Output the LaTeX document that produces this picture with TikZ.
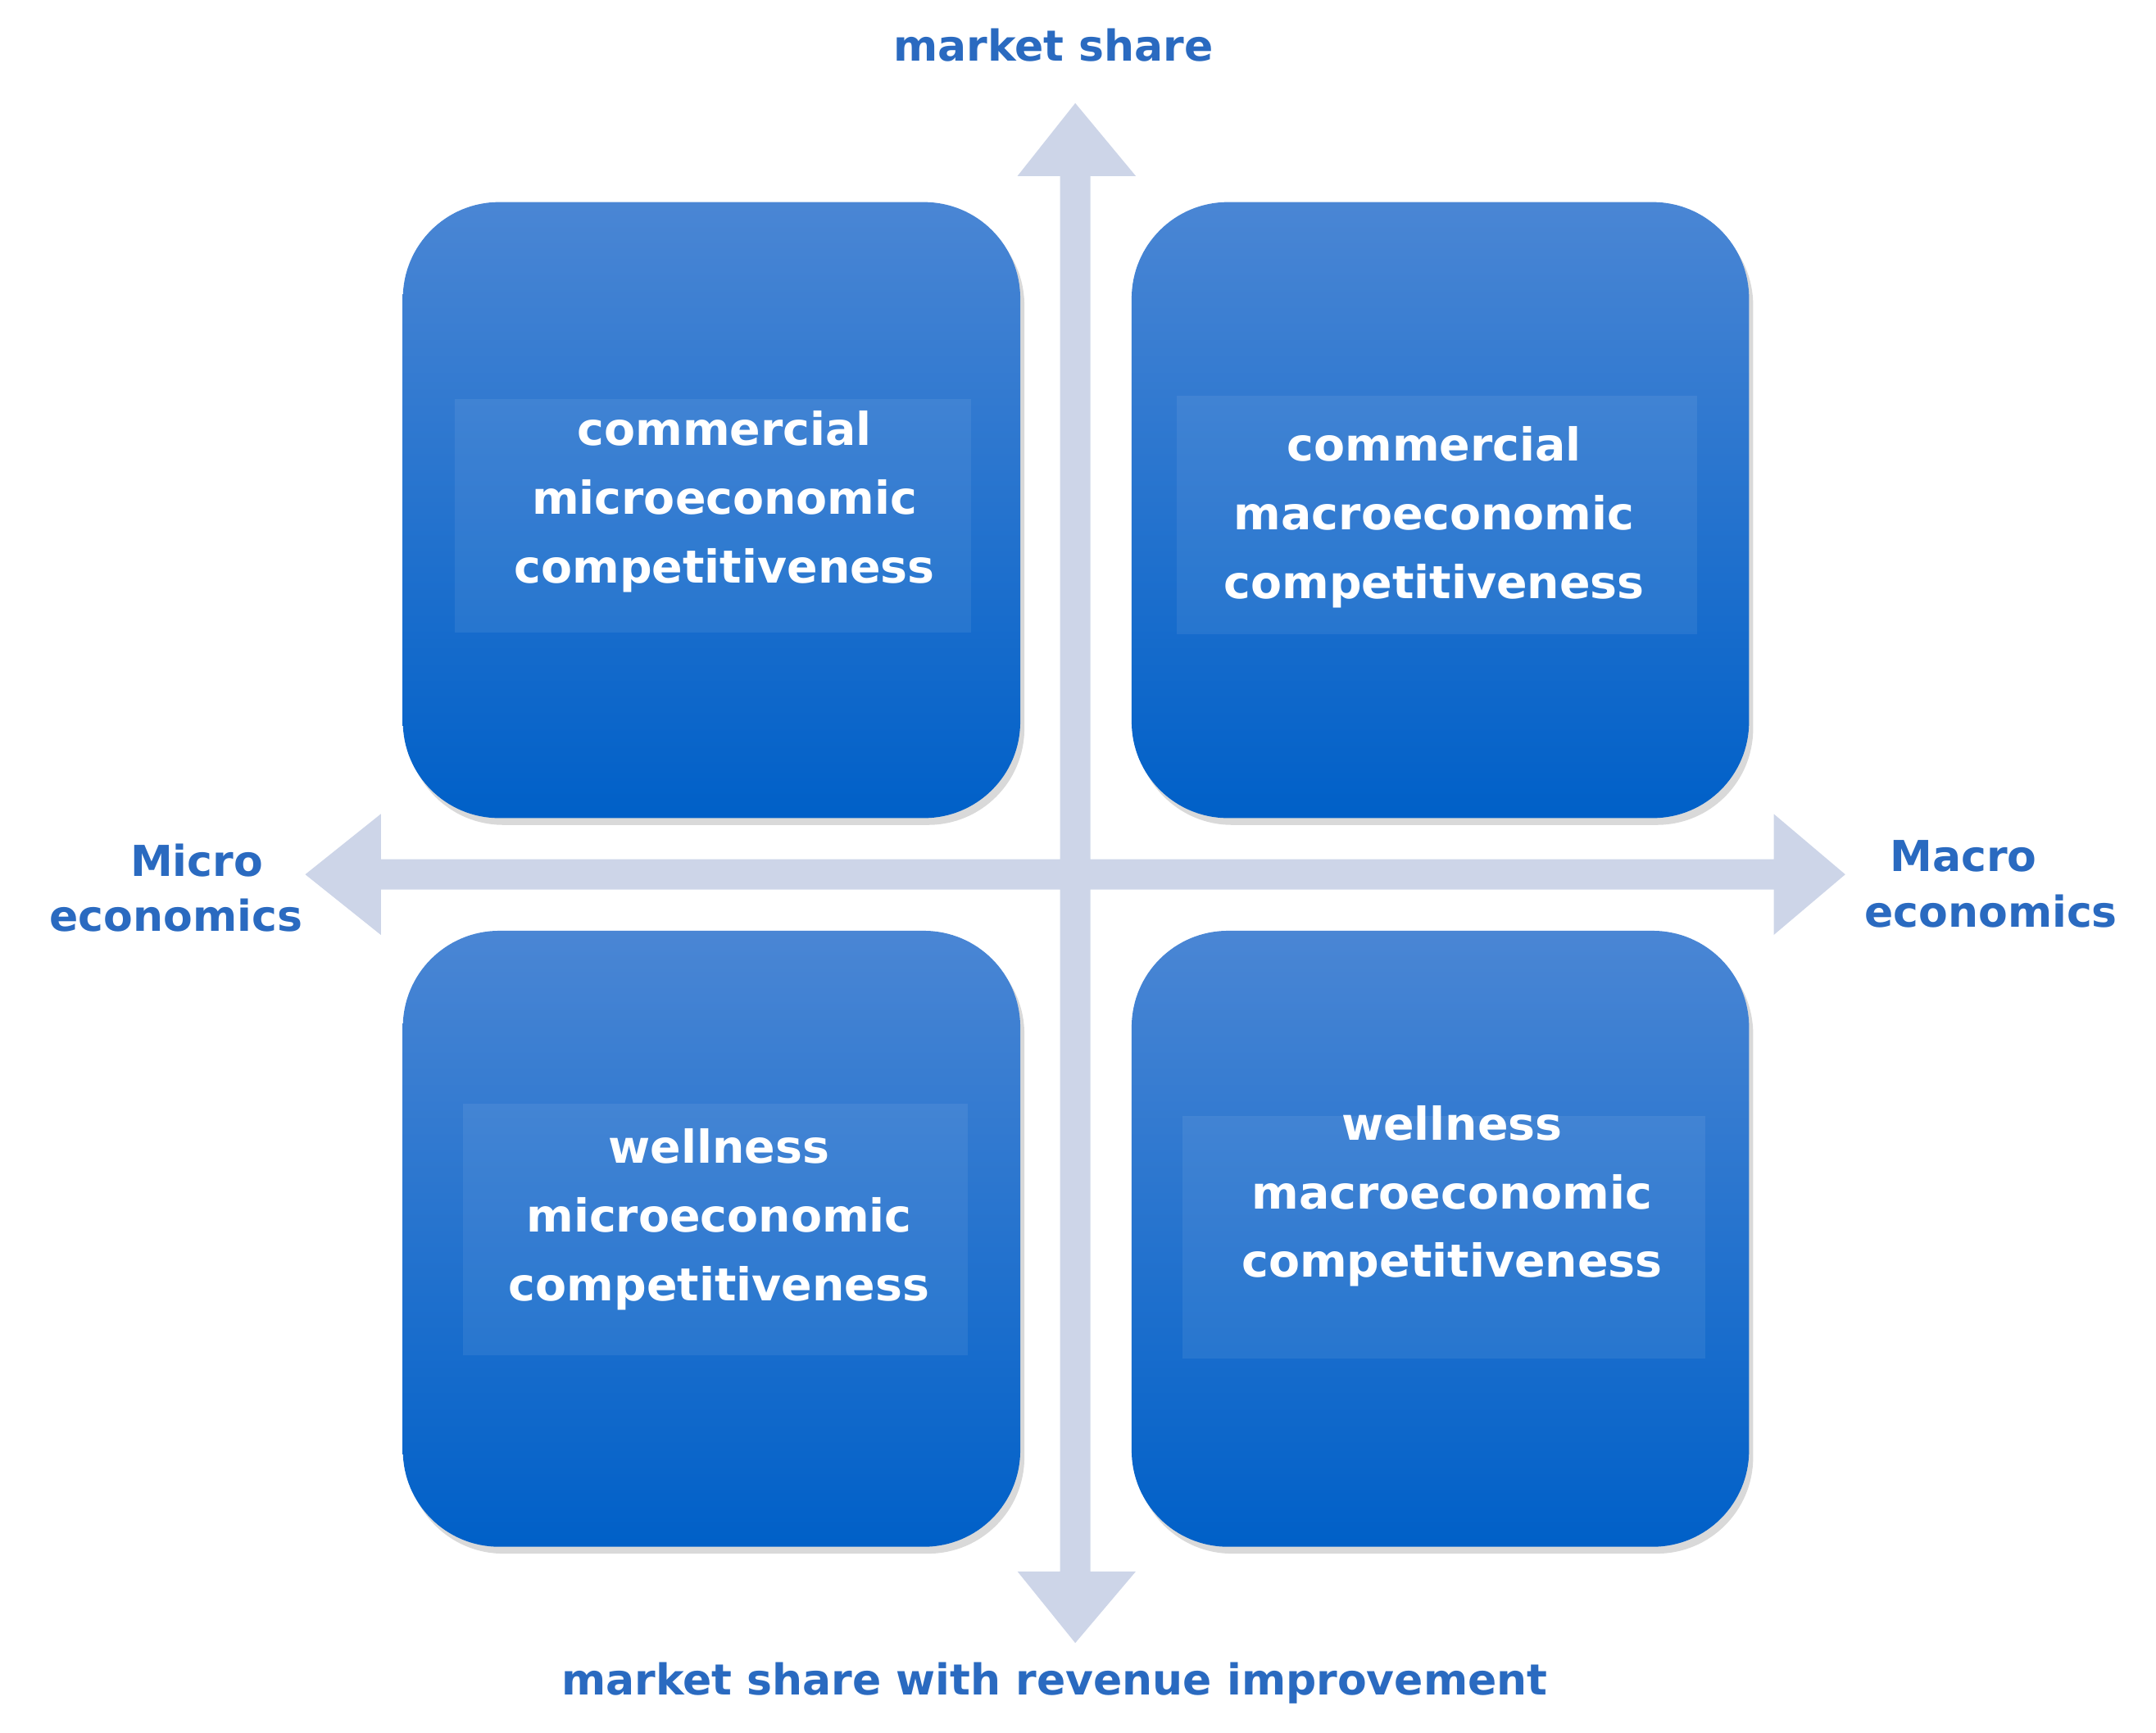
\documentclass[tikz,border=0pt]{standalone}
\usepackage{fontspec}
\setmainfont{DejaVu Sans}
\usetikzlibrary{shadows}
\definecolor{axis}{HTML}{CDD5E8}
\definecolor{lbl}{HTML}{2A6AC0}
\definecolor{btop}{HTML}{4A86D4}
\definecolor{bbot}{HTML}{0060C8}
\tikzset{
  quad/.style={rounded corners=70pt, top color=btop, bottom color=bbot, draw=none,
    drop shadow={shadow xshift=3pt,shadow yshift=-5pt,opacity=0.3}},
  inner/.style={fill=white, fill opacity=0.07, draw=none},
  qtext/.style={text=white, font=\bfseries\fontsize{33}{50}\selectfont, align=center},
  axlbl/.style={text=lbl, font=\bfseries\fontsize{31}{40}\selectfont, align=center},
}
\begin{document}
\begin{tikzpicture}[x=1pt,y=-1pt]
\useasboundingbox (0,0) rectangle (1568,1260);
% axes
\fill[axis] (771,128) -- (740,128) -- (782,75) -- (826,128) -- (793,128) -- (793,625) -- (1290,625) -- (1290,592) -- (1342,636) -- (1290,680) -- (1290,647) -- (793,647) -- (793,1143) -- (826,1143) -- (782,1195) -- (740,1143) -- (771,1143) -- (771,647) -- (277,647) -- (277,680) -- (222,636) -- (277,592) -- (277,625) -- (771,625) -- cycle;
% boxes
\node[quad, minimum width=449pt, minimum height=448pt] (tl) at (517.5,371) {};
\node[quad, minimum width=449pt, minimum height=448pt] (tr) at (1047.5,371) {};
\node[quad, minimum width=449pt, minimum height=448pt] (bl) at (517.5,901) {};
\node[quad, minimum width=449pt, minimum height=448pt] (br) at (1047.5,901) {};
\fill[inner] (331,290) rectangle (706,460);
\fill[inner] (856,288) rectangle (1234,461);
\fill[inner] (337,803) rectangle (704,986);
\fill[inner] (860,812) rectangle (1240,988);
\node[qtext] (t1) at (527,365) {commercial\\microeconomic\\competitiveness};
\node[qtext] (t2) at (1043,376) {commercial\\macroeconomic\\competitiveness};
\node[qtext] (t3) at (523,887) {wellness\\microeconomic\\competitiveness};
\node[qtext] (t4) at (1056,870) {wellness\\macroeconomic\\competitiveness};
% labels
\node[axlbl] (top) at (766,33) {market share};
\node[axlbl] (bot) at (767,1224) {market share with revenue improvement};
\node[axlbl] (mi) at (128,646) {\hspace*{30pt}Micro\\economics};
\node[axlbl] (ma) at (1448,643) {\hspace*{-40pt}Macro\\economics};
\end{tikzpicture}
\end{document}
